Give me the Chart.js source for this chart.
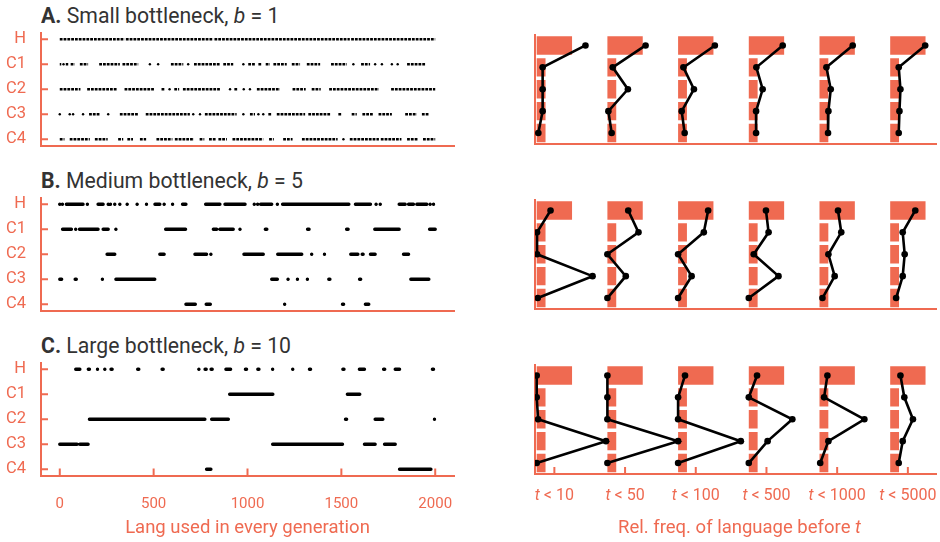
<!DOCTYPE html>
<html><head><meta charset="utf-8">
<script src="https://cdn.jsdelivr.net/npm/chart.js@4.4.1/dist/chart.umd.min.js"></script>
<style>
html,body{margin:0;padding:0;background:#fff;}
#wrap{position:relative;width:940px;height:542px;overflow:hidden;background:#fff;}
canvas{position:absolute;}
.ttl{position:absolute;left:41px;font-family:Roboto,sans-serif;font-size:22px;line-height:22px;color:#333;white-space:nowrap;transform:scaleX(0.965);transform-origin:0 50%;}
.ttl b{font-weight:700;}
</style></head><body>
<div id="wrap">
<div class="ttl" style="top:5px"><b>A.</b> Small bottleneck, <i>b</i> = 1</div>
<div class="ttl" style="top:170px"><b>B.</b> Medium bottleneck, <i>b</i> = 5</div>
<div class="ttl" style="top:335px"><b>C.</b> Large bottleneck, <i>b</i> = 10</div>
<canvas id="lA" width="460" height="125" style="left:0;top:28px"></canvas>
<canvas id="lB" width="460" height="125" style="left:0;top:193px"></canvas>
<canvas id="lC" width="460" height="184" style="left:0;top:358px"></canvas>
<canvas id="rA" width="420" height="122" style="left:520px;top:28px"></canvas>
<canvas id="rB" width="420" height="122" style="left:520px;top:193px"></canvas>
<canvas id="rC" width="420" height="184" style="left:520px;top:358px"></canvas>
</div>
<script>
// ---------- data ----------
const rowLabels = ['H', 'C1', 'C2', 'C3', 'C4'];
const genTicks = [0, 500, 1000, 1500, 2000];
const tLabels = ['10', '50', '100', '500', '1000', '5000'];
const prior = [0.5, 0.125, 0.125, 0.125, 0.125];

// generations in which each language was used: [start,end] runs, single numbers = isolated generations
const smallRuns = [
  [[0,345],[352,818],[824,1545],[1552,2000]],
  [[0,8],20,[32,45],[58,80],[107,151],[210,320],[334,418],480,524,[592,658],684,[715,853],[871,924],978,[1004,1040],[1058,1076],[1097,1120],[1138,1209],[1236,1280],[1316,1387],[1445,1529],1564,[1605,1653],1680,1716,1769,1800,[1850,1950]],
  [[0,110],[146,305],[345,505],[542,560],585,[610,636],[656,853],907,[930,950],980,1013,[1050,1173],[1240,1310],[1342,1390],[1435,1700],[1765,2000]],
  [0,53,71,124,[156,213],258,[320,418],[458,693],711,747,[773,942],978,[1013,1040],1058,1084,[1111,1129],[1156,1307],[1324,1440],[1484,1502],[1555,1582],[1612,1671],[1698,1769],[1840,1902],[1929,1964]],
  [[0,25],[53,160],[187,255],[311,338],[360,390],[427,460],[515,600],[613,715],[745,770],[795,830],[845,890],[920,1084],[1115,1140],[1190,1240],[1290,1480],1511,[1545,1700],[1710,1820],[1850,1910],[1935,2000]]
];
const mediumRuns = [
  [0,14,[35,124],147,[204,231],258,270,293,320,359,412,462,[507,533],556,601,[654,672],[777,853],[880,987],1036,1054,[1070,1129],1159,[1187,1540],[1575,1655],1685,1707,[1808,1840],[1858,1884],[1902,1955],1973,1991],
  [[15,62],85,[105,204],[231,258],299,[564,670],[818,836],[853,924],960,[1095,1103],[1320,1328],[1528,1536],[1678,1808],[1970,2000]],
  [[252,293],[533,556],[720,782],805,[981,1084],[1161,1289],1342,1410,[1550,1588],[1611,1616],[1655,1680],[1831,1858]],
  [[0,10],[82,88],227,[299,506],[1129,1159],1216,1266,1319,[1433,1439],[1597,1603],[1870,1966]],
  [[672,722],[780,802],1198,[1506,1512],[1628,1646]]
];
const largeRuns = [
  [[85,107],[152,158],201,240,[273,279],[415,421],[545,551],741,[774,780],[806,812],[885,910],[989,995],[1055,1061],1134,1241,[1330,1336],[1508,1514],[1596,1623],[1725,1731],[1787,1810],[1985,1991]],
  [[905,1135],[1532,1598]],
  [[158,773],[809,898],[1522,1528],[1680,1721],1996],
  [[0,92],[107,151],[1134,1506],[1623,1680],[1730,1787]],
  [[782,805],[1810,1977]]
];

// relative frequency of each language (H, C1..C4) before t
const smallFreq = [
  [0.69,0.084,0.084,0.084,0.023],
  [0.54,0.075,0.29,0.014,0.06],
  [0.52,0.075,0.224,0.051,0.093],
  [0.48,0.107,0.196,0.103,0.103],
  [0.47,0.098,0.159,0.126,0.121],
  [0.495,0.121,0.145,0.131,0.121]
];
const mediumFreq = [
  [0.196,0.005,0.005,0.79,0.015],
  [0.295,0.44,0.0,0.26,0.0],
  [0.425,0.364,0.0,0.191,0.0],
  [0.243,0.28,0.07,0.42,0.0],
  [0.262,0.308,0.126,0.215,0.042],
  [0.355,0.177,0.205,0.177,0.084]
];
const largeFreq = [
  [0.0,0.0,0.02,0.98,0.0],
  [0.0,0.0,0.0,1.0,0.0],
  [0.098,0.0,0.0,0.887,0.0],
  [0.117,0.0,0.616,0.266,0.0],
  [0.112,0.065,0.635,0.126,0.01],
  [0.145,0.2,0.322,0.177,0.121]
];

// ---------- style ----------
const RED = '#ef6a51';
const FONT = 'Roboto, sans-serif';
Chart.defaults.font.family = FONT;
Chart.defaults.animation = false;
Chart.defaults.events = [];
Chart.defaults.plugins.legend.display = false;
Chart.defaults.plugins.tooltip.enabled = false;

function drawMixed(ctx, parts, cx, cy, size, color) {
  ctx.save();
  ctx.fillStyle = color;
  ctx.textBaseline = 'middle';
  ctx.textAlign = 'left';
  let total = 0;
  const widths = parts.map(([txt, it]) => {
    ctx.font = (it ? 'italic ' : '') + size + 'px ' + FONT;
    const w = ctx.measureText(txt).width; total += w; return w;
  });
  let x = cx - total / 2;
  parts.forEach(([txt, it], i) => {
    ctx.font = (it ? 'italic ' : '') + size + 'px ' + FONT;
    ctx.fillText(txt, x, cy);
    x += widths[i];
  });
  ctx.restore();
}

const decor = {
  id: 'decor',
  afterDraw(chart, args, o) {
    const ctx = chart.ctx;
    ctx.save();
    ctx.strokeStyle = RED;
    ctx.lineWidth = 2;
    if (o.yTicks) {
      const ys = chart.scales.y;
      ys.ticks.forEach(t => {
        const py = ys.getPixelForValue(t.value);
        ctx.beginPath(); ctx.moveTo(ys.right, py); ctx.lineTo(ys.right + 7, py); ctx.stroke();
      });
    }
    if (o.xTicks) {
      const xs = chart.scales.x;
      xs.ticks.forEach(t => {
        const px = xs.getPixelForValue(t.value);
        ctx.beginPath(); ctx.moveTo(px, xs.top); ctx.lineTo(px, xs.top - 7); ctx.stroke();
      });
    }
    ctx.restore();
    if (o.tLabels) {
      const xs = chart.scales.x;
      xs.ticks.forEach((t, g) => {
        const px = xs.getPixelForValue(t.value);
        drawMixed(ctx, [['t', true], [' < ' + tLabels[g], false]], px, xs.top + 22, 16, RED);
      });
      const cx = (xs.left + xs.right) / 2 + 4;
      drawMixed(ctx, [['Rel. freq. of language before ', false], ['t', true]], cx, xs.top + 54, 18.5, RED);
    }
  }
};

function buildRow(row, r) {
  const pts = [];
  row.forEach(item => {
    if (Array.isArray(item)) {
      pts.push({x: item[0], y: r}, {x: item[1], y: r}, {x: item[1], y: null});
    } else {
      pts.push({x: item, y: r, dot: true}, {x: item, y: null});
    }
  });
  return pts;
}

function noPad(s) { s.paddingTop = 0; s.paddingBottom = 0; s.paddingLeft = 0; s.paddingRight = 0; }

function leftChart(id, runs, lw, dotR, dash, bottom, axisH) {
  new Chart(document.getElementById(id), {
    type: 'scatter',
    data: {
      datasets: runs.map((row, r) => ({
        data: buildRow(row, r),
        showLine: true,
        spanGaps: false,
        borderColor: '#000',
        borderWidth: lw,
        borderDash: dash,
        borderCapStyle: dash.length ? 'butt' : 'round',
        borderJoinStyle: 'round',
        pointRadius: c => (c.raw && c.raw.dot) ? dotR : 0,
        pointBackgroundColor: '#000',
        pointBorderWidth: 0
      }))
    },
    options: {
      responsive: false,
      layout: {padding: {top: 5, right: 6, left: 0, bottom: 0}},
      scales: {
        x: {
          type: 'linear', min: -100, max: 2100,
          afterBuildTicks: s => { s.ticks = genTicks.map(v => ({value: v})); },
          ticks: {display: bottom, color: RED, font: {size: 15}, padding: 12, maxRotation: 0, autoSkip: false, callback: v => String(v)},
          grid: {display: false},
          border: {color: RED, width: 2},
          title: {display: bottom, text: 'Lang used in every generation', color: RED, font: {size: 18.5}, padding: {top: 0, bottom: 3}},
          afterFit: s => { s.height = axisH; noPad(s); }
        },
        y: {
          type: 'linear', min: -0.25, max: 4.25, reverse: true,
          afterBuildTicks: s => { s.ticks = rowLabels.map((_, i) => ({value: i})); },
          ticks: {callback: v => rowLabels[v], color: RED, font: {size: 16.5}, padding: 15},
          grid: {display: false, drawTicks: false},
          border: {color: RED, width: 2},
          afterFit: s => { s.width = 41; noPad(s); }
        }
      },
      plugins: {decor: {yTicks: true, xTicks: bottom}}
    },
    plugins: [decor]
  });
}

function rightChart(id, freq, bottom, axisH) {
  const bars = tLabels.map((t, g) => ({
    type: 'bar',
    data: prior.map(p => [g, g + p]),
    backgroundColor: RED,
    borderWidth: 0,
    grouped: false,
    barPercentage: 0.84,
    categoryPercentage: 1,
    order: 2
  }));
  const lines = freq.map((vals, g) => ({
    type: 'line',
    indexAxis: 'y',
    data: vals.map(v => g + v),
    borderColor: '#000',
    borderWidth: 2.6,
    pointRadius: 3.3,
    pointBackgroundColor: '#000',
    pointBorderWidth: 0,
    tension: 0,
    clip: {left: 0, right: 8, top: 8, bottom: 8},
    order: 1
  }));
  new Chart(document.getElementById(id), {
    type: 'bar',
    data: {labels: rowLabels, datasets: [...bars, ...lines]},
    options: {
      responsive: false,
      indexAxis: 'y',
      layout: {padding: {top: 6.5, right: 0, left: 0, bottom: 0}},
      scales: {
        x: {
          type: 'linear', min: -0.024, max: 5.648,
          afterBuildTicks: s => { s.ticks = tLabels.map((_, g) => ({value: g + 0.25})); },
          ticks: {display: false},
          grid: {display: false, drawTicks: false},
          border: {color: RED, width: 2},
          afterFit: s => { s.height = axisH; noPad(s); }
        },
        y: {
          type: 'category', offset: true,
          ticks: {display: false},
          grid: {display: false, drawTicks: false},
          border: {color: RED, width: 2},
          afterFit: s => { s.width = 15; noPad(s); }
        }
      },
      plugins: {decor: {xTicks: bottom, tLabels: bottom}}
    },
    plugins: [decor]
  });
}

leftChart('lA', smallRuns, 2.5, 1.2, [2.8, 1.0], false, 7.5);
leftChart('lB', mediumRuns, 3.4, 1.2, [], false, 7.5);
leftChart('lC', largeRuns, 3.4, 1.2, [], true, 66.5);
rightChart('rA', smallFreq, false, 6);
rightChart('rB', mediumFreq, false, 6);
rightChart('rC', largeFreq, true, 68);
</script>
</body></html>
